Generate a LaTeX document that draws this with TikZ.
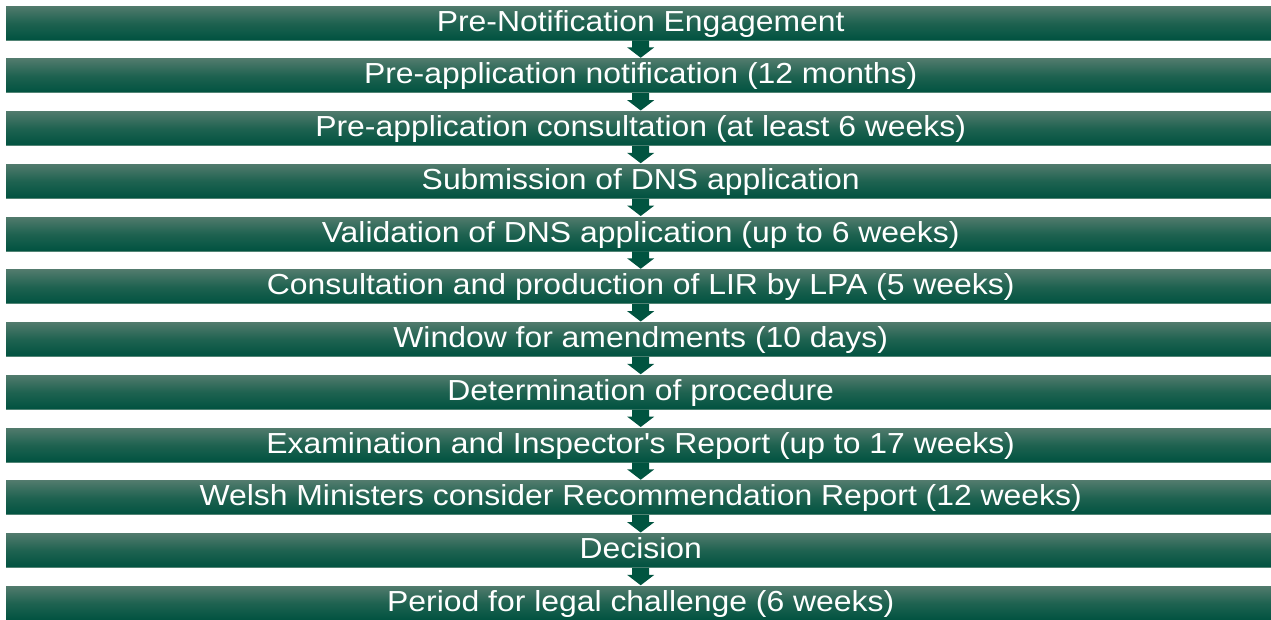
\documentclass[tikz,border=0pt]{standalone}
\usepackage{fontspec}
\setmainfont[FakeStretch=1.1]{Liberation Sans}
\usetikzlibrary{calc}
\definecolor{bartop}{RGB}{80,122,108}
\definecolor{barmid}{RGB}{30,98,80}
\definecolor{barbot}{RGB}{0,82,64}
\definecolor{arrowc}{RGB}{0,84,64}
\definecolor{edgec}{RGB}{82,132,117}
\tikzset{
  barbox/.style={rectangle, inner sep=0pt, minimum width=1269pt, minimum height=34pt,
    text height=25pt, text depth=9pt, anchor=north west,
    top color=bartop, bottom color=barbot, middle color=barmid,
    text=white, font=\fontsize{29pt}{30pt}\selectfont},
  flowarrow/.style={fill=arrowc}
}
\newcommand{\flowarr}[2]{%
  \fill[flowarrow] ($(#1.south)+(-8.5,0)$) -- ($(#1.south)+(-8.5,7)$) -- ($(#1.south)+(-13.5,7)$)
    -- ($(#2.north)+(0,-1)$) -- ($(#1.south)+(13.5,7)$) -- ($(#1.south)+(8.5,7)$)
    -- ($(#1.south)+(8.5,0)$) -- cycle;}
\begin{document}
\begin{tikzpicture}[x=1pt,y=-1pt]
\useasboundingbox (0,0) rectangle (1271,619);
\begin{scope}
\clip (0,0) rectangle (1271,619);
\foreach \i/\t in {1/Pre-Notification Engagement,
  2/Pre-application notification (12 months),
  3/Pre-application consultation (at least 6 weeks),
  4/Submission of DNS application,
  5/Validation of DNS application (up to 6 weeks),
  6/Consultation and production of LIR by LPA (5 weeks),
  7/Window for amendments (10 days),
  8/Determination of procedure,
  9/Examination and Inspector\textquotesingle s Report (up to 17 weeks),
  10/Welsh Ministers consider Recommendation Report (12 weeks),
  11/Decision,
  12/Period for legal challenge (6 weeks)}{
  \node[barbox] (b\i) at (6,{6+52.75*(\i-1)}) {\t};
  \draw[edgec, line width=0.7pt] ($(b\i.south west)+(0,-0.4)$) -- ($(b\i.south east)+(0,-0.4)$);
}
\foreach \i [evaluate=\i as \j using int(\i+1)] in {1,...,11}{
  \flowarr{b\i}{b\j}
}
\end{scope}
\end{tikzpicture}
\end{document}
